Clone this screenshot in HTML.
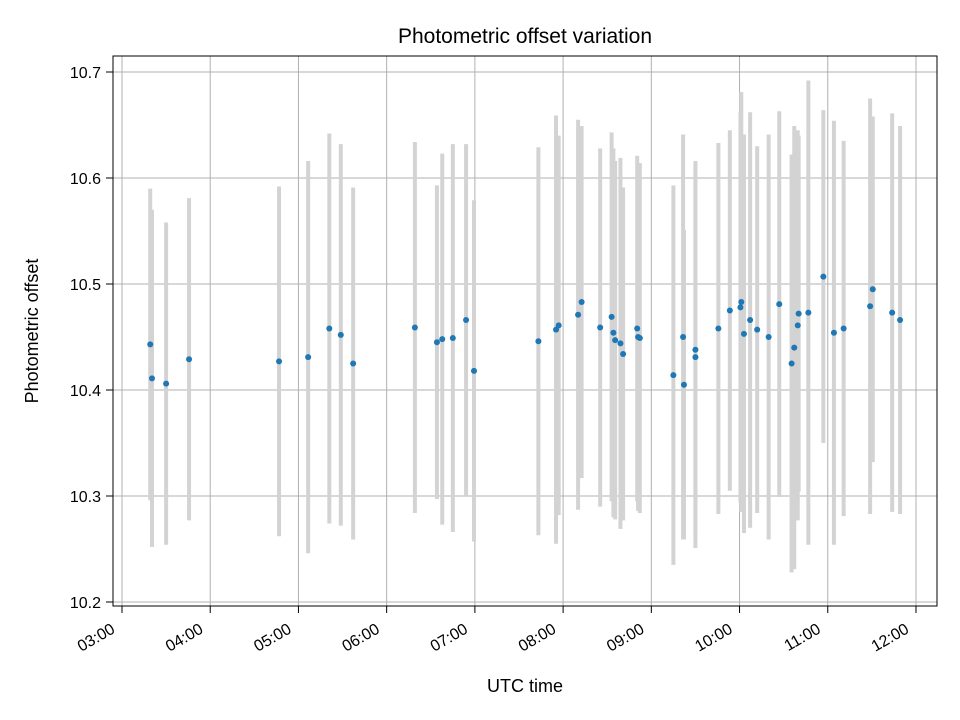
<!DOCTYPE html>
<html><head><meta charset="utf-8"><style>body{margin:0;background:#fff}svg{display:block;font-family:"Liberation Sans","DejaVu Sans",sans-serif}</style></head>
<body>
<svg id="chart" width="960" height="720" viewBox="0 0 960 720">
<rect width="960" height="720" fill="#fff"/>
<g id="grid"></g>
<g id="bars"></g>
<g id="pts"></g>
<rect x="113" y="56" width="824" height="550" fill="none" stroke="#000" stroke-width="1"/>
<g id="axes"></g>
<text x="525" y="43" text-anchor="middle" font-size="21">Photometric offset variation</text>
<text x="525" y="692" text-anchor="middle" font-size="18">UTC time</text>
<text x="38" y="331" text-anchor="middle" font-size="18" transform="rotate(-90 38 331)">Photometric offset</text>
</svg>
<script>
const times=[3.32,3.34,3.50,3.76,4.78,5.11,5.35,5.48,5.62,6.32,6.57,6.63,6.75,6.90,6.99,7.72,7.92,7.95,8.17,8.21,8.42,8.55,8.57,8.59,8.65,8.68,8.84,8.85,8.87,9.25,9.36,9.37,9.50,9.50,9.76,9.89,10.01,10.02,10.05,10.12,10.20,10.33,10.45,10.59,10.62,10.66,10.67,10.78,10.95,11.07,11.18,11.48,11.51,11.73,11.82];
const offsets=[10.443,10.411,10.406,10.429,10.427,10.431,10.458,10.452,10.425,10.459,10.445,10.448,10.449,10.466,10.418,10.446,10.457,10.461,10.471,10.483,10.459,10.469,10.454,10.447,10.444,10.434,10.458,10.450,10.449,10.414,10.450,10.405,10.431,10.438,10.458,10.475,10.478,10.483,10.453,10.466,10.457,10.450,10.481,10.425,10.440,10.461,10.472,10.473,10.507,10.454,10.458,10.479,10.495,10.473,10.466];
const errors=[0.147,0.159,0.152,0.152,0.165,0.185,0.184,0.180,0.166,0.175,0.148,0.175,0.183,0.166,0.161,0.183,0.202,0.179,0.184,0.166,0.169,0.174,0.174,0.169,0.175,0.157,0.163,0.164,0.165,0.179,0.191,0.146,0.180,0.178,0.175,0.170,0.184,0.198,0.188,0.196,0.173,0.191,0.182,0.197,0.209,0.184,0.168,0.219,0.157,0.200,0.177,0.196,0.163,0.188,0.183];
const xTickHours=[3,4,5,6,7,8,9,10,11,12];
const xTickLabels=["03:00","04:00","05:00","06:00","07:00","08:00","09:00","10:00","11:00","12:00"];
const yTicks=[10.2,10.3,10.4,10.5,10.6,10.7];
const yTickLabels=["10.2","10.3","10.4","10.5","10.6","10.7"];
const NS="http://www.w3.org/2000/svg";
const X=h=>122+(h-3)*88.22;
const Y=v=>72+(10.7-v)*1060;
function mk(tag,attrs,parent){const e=document.createElementNS(NS,tag);for(const k in attrs)e.setAttribute(k,attrs[k]);parent.appendChild(e);return e;}
const grid=document.getElementById('grid'),axes=document.getElementById('axes'),bars=document.getElementById('bars'),pts=document.getElementById('pts');
xTickHours.forEach((h,i)=>{const x=X(h);
 let g=mk('line',{x1:x,x2:x,y1:56,y2:606,stroke:'#b0b0b0','stroke-width':1},grid);
 
 let t=mk('line',{x1:x,x2:x,y1:606,y2:613,stroke:'#000','stroke-width':1},axes);
 
 const ax=x-6,ay=632;
 let l=mk('text',{x:ax,y:ay,'text-anchor':'end','font-size':16,transform:`rotate(-30 ${ax} ${ay})`},axes);
 l.textContent=xTickLabels[i];
 });
yTicks.forEach((v,i)=>{const y=Y(v);
 let g=mk('line',{x1:113,x2:937,y1:y,y2:y,stroke:'#b0b0b0','stroke-width':1},grid);
 
 let t=mk('line',{x1:106,x2:113,y1:y,y2:y,stroke:'#000','stroke-width':1},axes);
 
 let l=mk('text',{x:101,y:y+6,'text-anchor':'end','font-size':16},axes);
 l.textContent=yTickLabels[i];
 });
times.forEach((h,i)=>{const x=X(h);
 let b=mk('line',{x1:x,x2:x,y1:Y(offsets[i]+errors[i]),y2:Y(offsets[i]-errors[i]),stroke:'#d3d3d3','stroke-width':4},bars);
 
 let c=mk('circle',{cx:x,cy:Y(offsets[i]),r:3,fill:'#1f77b4'},pts);
 });
</script>
</body></html>
